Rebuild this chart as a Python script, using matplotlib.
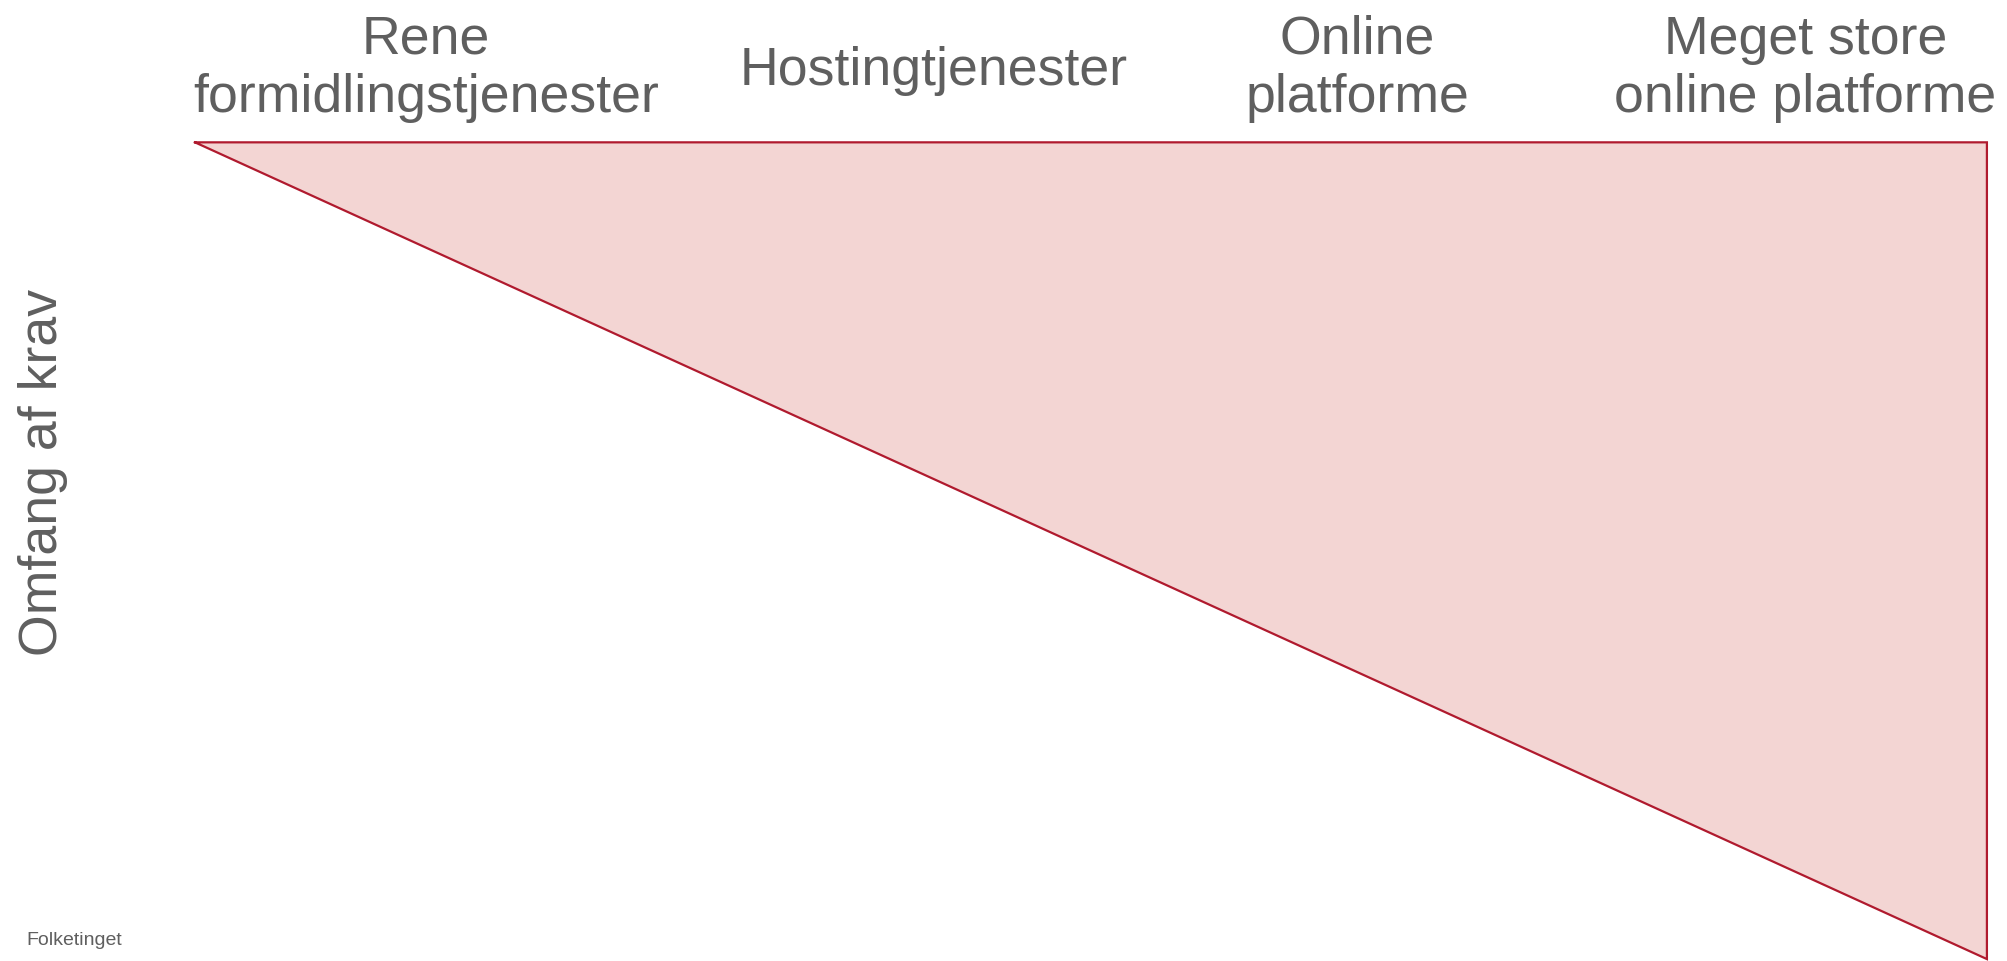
import numpy as np
import matplotlib.pyplot as plt

# kategorier af tjenester (fra venstre mod hoejre)
kategorier = ["Rene\nformidlingstjenester", "Hostingtjenester", "Online\nplatforme", "Meget store\nonline platforme"]
kategori_pos = [0.212, 0.465, 0.676, 0.899]

# omfang af krav: stiger lineaert fra 0 til 1 over kategorierne
krav_x = [0, 1]
krav_niveau = [0, 1]

akse_titel = "Omfang af krav"
kilde = "Folketinget"

tekst_farve = "#5f5f5f"
kant_farve = "#b01a2e"
fyld_farve = "#f3d5d3"

plt.rcParams["font.family"] = ["Liberation Sans", "DejaVu Sans"]

fig = plt.figure(figsize=(20.08, 9.62), dpi=100)
ax = fig.add_axes([0.0971, 0.002, 0.8924, 0.849])

# trekanten: fyld mellem top (0) og kravniveauet
ax.fill_between(krav_x, krav_niveau[0], krav_niveau, color=fyld_farve, lw=0)
kx = [krav_x[0], krav_x[-1], krav_x[-1], krav_x[0]]
ky = [krav_niveau[0], krav_niveau[0], krav_niveau[-1], krav_niveau[0]]
ax.plot(kx, ky, color=kant_farve, lw=1.6, clip_on=False, solid_joinstyle="miter")

ax.set_xlim(krav_x[0], krav_x[-1])
ax.set_ylim(krav_niveau[-1], krav_niveau[0])
ax.axis("off")

for navn, xp in zip(kategorier, kategori_pos):
    # to-linjers tekster staar med sidste grundlinje lavere end en-linjers
    yp = 0.8836 if "\n" in navn else 0.9116
    fig.text(xp, yp, navn, ha="center", va="baseline", fontsize=38.6,
             color=tekst_farve, linespacing=1.21)

fig.text(0.0215, 0.509, akse_titel, rotation=90, ha="center", va="center",
         fontsize=38.6, color=tekst_farve)
fig.text(0.013, 0.013, kilde, ha="left", va="bottom", fontsize=14, color=tekst_farve)

fig.savefig("out.png", dpi=100)
